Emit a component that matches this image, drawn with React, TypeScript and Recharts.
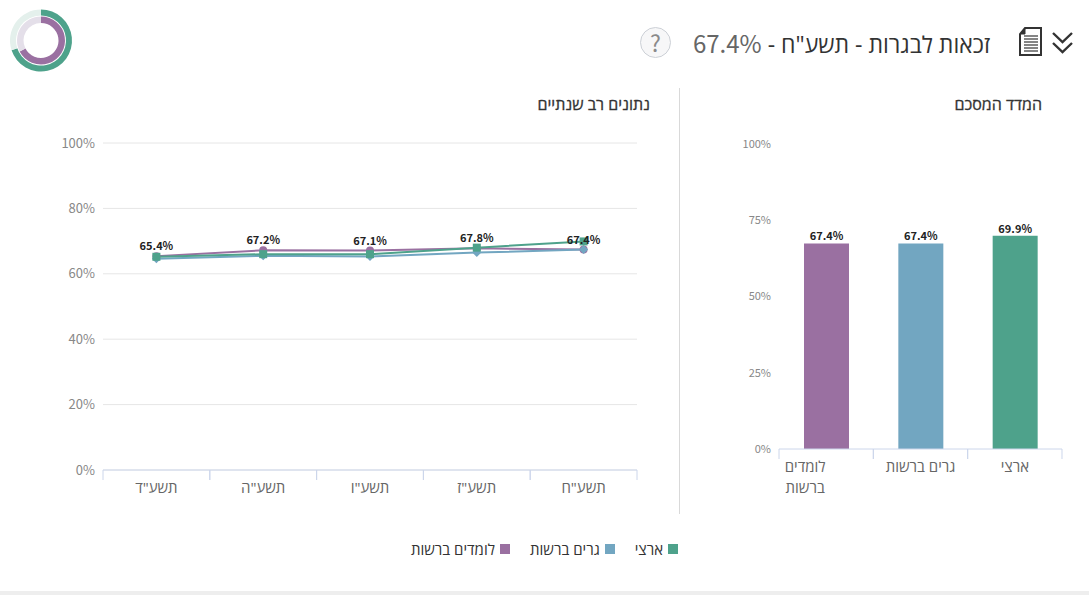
import React from "react";
import { BarChart, Bar, Cell, LineChart, Line, XAxis, YAxis, CartesianGrid, LabelList, PieChart, Pie } from "recharts";

const years = ['תשע"ד', 'תשע"ה', 'תשע"ו', 'תשע"ז', 'תשע"ח'];
const nationalSeries = [65.2, 66.0, 66.0, 68.0, 69.9];
const residentSeries = [64.6, 65.5, 65.3, 66.5, 67.4];
const studentSeries = [65.4, 67.2, 67.1, 67.8, 67.4];
const yTicksLine = [0, 20, 40, 60, 80, 100];
const yTicksBar = [0, 25, 50, 75, 100];
const groups = ["לומדים ברשות", "גרים ברשות", "ארצי"];
const groupValues = [67.4, 67.4, 69.9];
const legendNames = ["ארצי", "גרים ברשות", "לומדים ברשות"];
const outerRing = [69.9, 30.1];
const innerRing = [67.4, 32.6];

const GREEN = "#4ea28b";
const BLUE = "#72a6c1";
const PURPLE = "#9a70a1";
const legendColors = [GREEN, BLUE, PURPLE];
const barColors = [PURPLE, BLUE, GREEN];
const AXIS = "#ccd6eb";
const FONT = '"Noto Sans CJK JP","Open Sans","Liberation Sans",sans-serif';
const HEB = '"Open Sans","Liberation Sans","DejaVu Sans",sans-serif';

const lineData = years.map((year, i) => ({
  year,
  national: nationalSeries[i],
  resident: residentSeries[i],
  student: studentSeries[i],
}));
const barData = groups.map((name, i) => ({ name, value: groupValues[i] }));
const ringData = (vals: number[]) => vals.map((value, i) => ({ name: i === 0 ? "value" : "rest", value }));

const pct = (v: any) => `${Number(v).toFixed(1)}%`;

const BandTick = ({ x, y, payload, band, fontSize, wrapWidth }: any) => {
  const text: string = payload.value;
  const words = text.split(" ");
  const wrap = wrapWidth && text.length > 10;
  return (
    <g>
      <line x1={x - band / 2} x2={x - band / 2} y1={y - 8} y2={y + 2} stroke={AXIS} />
      <line x1={x + band / 2} x2={x + band / 2} y1={y - 8} y2={y + 2} stroke={AXIS} />
      {wrap ? (
        words.map((w, i) => (
          <text key={w} x={x - 21} y={y + 15 + i * 21} textAnchor="middle" direction="rtl" fontSize={fontSize} fontFamily={HEB} fill="#666">{w}</text>
        ))
      ) : (
        <text x={x} y={y + 15} textAnchor="middle" direction="rtl" fontSize={fontSize} fontFamily={HEB} fill="#666">{text}</text>
      )}
    </g>
  );
};

const Square = ({ cx, cy, fill }: any) => <rect x={cx - 4} y={cy - 4} width={8} height={8} fill={fill} />;
const Diamond = ({ cx, cy, fill }: any) => <path d={`M${cx} ${cy - 4.5}L${cx + 4.5} ${cy}L${cx} ${cy + 4.5}L${cx - 4.5} ${cy}Z`} fill={fill} />;
const Circle = ({ cx, cy, fill }: any) => <circle cx={cx} cy={cy} r={4} fill={fill} />;

const abs = (left: number, top: number, extra: React.CSSProperties = {}): React.CSSProperties => ({ position: "absolute", left, top, ...extra });

export default function App() {
  return (
    <div style={{ position: "absolute", left: 0, top: 0, width: 1089, height: 595, background: "#fff", overflow: "hidden", fontFamily: HEB }}>
      {/* gauge */}
      <div style={abs(0, 0)}>
        <PieChart width={82} height={82} margin={{ top: 0, left: 0, right: 0, bottom: 0 }}>
          <Pie data={ringData(outerRing)} dataKey="value" cx={41} cy={40.5} innerRadius={25} outerRadius={31} startAngle={90} endAngle={-270} stroke="none" isAnimationActive={false}>
            <Cell fill={GREEN} />
            <Cell fill="#e4f0ec" />
          </Pie>
          <Pie data={ringData(innerRing)} dataKey="value" cx={41} cy={40.5} innerRadius={17.5} outerRadius={24} startAngle={90} endAngle={-270} stroke="none" isAnimationActive={false}>
            <Cell fill={PURPLE} />
            <Cell fill="#e4dfe9" />
          </Pie>
        </PieChart>
      </div>

      {/* header */}
      <div style={abs(640, 27, { width: 31, height: 31, boxSizing: "border-box", border: "1px solid #ccd0d6", borderRadius: 16, background: "#f7f7f8", color: "#8a8a8a", fontSize: 23, lineHeight: "29px", textAlign: "center", fontFamily: FONT })}>?</div>
      <div style={{ position: "absolute", right: 99, top: 26, whiteSpace: "nowrap", direction: "rtl", fontSize: 23, lineHeight: "34px", color: "#333", fontFamily: HEB }}>
        זכאות לבגרות - תשע"ח - <span style={{ color: "#666", fontFamily: FONT, fontSize: 24 }}>67.4%</span>
      </div>
      <svg style={abs(1015, 25)} width={60} height={34}>
        <path d="M10 3H26V30H5V9Z" fill="none" stroke="#333" strokeWidth={2} />
        <path d="M10 3V9H5" fill="#333" stroke="#333" strokeWidth={1} />
        {[11, 14, 17, 20, 23, 26].map((y) => (
          <line key={y} x1={9} x2={23} y1={y} y2={y} stroke="#333" strokeWidth={1.2} />
        ))}
        <path d="M38 8L47.5 17L57 8M38 18L47.5 27L57 18" fill="none" stroke="#333" strokeWidth={2.4} />
      </svg>

      <div style={abs(679, 88, { width: 1, height: 426, background: "#d9d9d9" })} />

      <div style={{ position: "absolute", right: 47, top: 93, direction: "rtl", fontSize: 16, lineHeight: "22px", color: "#333", whiteSpace: "nowrap", WebkitTextStroke: "0.3px #333" }}>המדד המסכם</div>
      <div style={{ position: "absolute", right: 439, top: 93, direction: "rtl", fontSize: 16, lineHeight: "22px", color: "#333", whiteSpace: "nowrap", WebkitTextStroke: "0.3px #333" }}>נתונים רב שנתיים</div>

      {/* multi-year line chart */}
      <div style={abs(0, 0)}>
        <LineChart width={680} height={520} data={lineData} margin={{ top: 143, left: 43, right: 43, bottom: 20 }}>
          <CartesianGrid horizontal vertical={false} stroke="#e6e6e6" />
          <XAxis dataKey="year" stroke={AXIS} tickLine={false} interval={0} height={30} padding={{ left: 53.4, right: 53.4 }} tick={<BandTick band={106.8} fontSize={15} />} />
          <YAxis width={60} domain={[0, 100]} ticks={yTicksLine} tickFormatter={(v) => `${v}%`} axisLine={false} tickLine={false} tick={{ fontSize: 13, fill: "#888", fontFamily: FONT }} />
          <Line dataKey="student" stroke={PURPLE} strokeWidth={2} dot={<Circle fill={PURPLE} />} isAnimationActive={false} />
          <Line dataKey="resident" stroke={BLUE} strokeWidth={2} dot={<Diamond fill={BLUE} />} isAnimationActive={false} />
          <Line dataKey="national" stroke={GREEN} strokeWidth={2} dot={<Square fill={GREEN} />} isAnimationActive={false} />
          <Line dataKey="student" stroke="none" dot={false} isAnimationActive={false}>
            <LabelList dataKey="student" position="top" offset={6} formatter={pct} style={{ fontSize: 11, fontWeight: 700, fill: "#222", fontFamily: FONT }} />
          </Line>
        </LineChart>
      </div>

      {/* summary bar chart */}
      <div style={abs(700, 0)}>
        <BarChart width={389} height={520} data={barData} barSize={45} margin={{ top: 144, left: 29, right: 27, bottom: 41 }}>
          <XAxis dataKey="name" stroke={AXIS} tickLine={false} interval={0} height={30} tick={<BandTick band={94.33} fontSize={15} wrapWidth />} />
          <YAxis width={50} domain={[0, 100]} ticks={yTicksBar} tickFormatter={(v) => `${v}%`} axisLine={false} tickLine={false} tick={{ fontSize: 11, fill: "#888", fontFamily: FONT }} />
          <Bar dataKey="value" isAnimationActive={false}>
            {barData.map((d, i) => (
              <Cell key={d.name} fill={barColors[i]} />
            ))}
            <LabelList dataKey="value" position="top" offset={3} formatter={pct} style={{ fontSize: 11, fontWeight: 700, fill: "#222", fontFamily: FONT }} />
          </Bar>
        </BarChart>
      </div>

      {/* legend */}
      <div style={{ position: "absolute", right: 411, top: 539, display: "flex", direction: "rtl", gap: 20, fontSize: 15, lineHeight: "20px", color: "#333", whiteSpace: "nowrap" }}>
        {legendNames.map((n, i) => (
          <div key={n} style={{ display: "flex", alignItems: "center", gap: 5 }}>
            <span style={{ width: 10, height: 10, background: legendColors[i], display: "inline-block" }} />
            <span>{n}</span>
          </div>
        ))}
      </div>

      <div style={abs(0, 591, { width: 1089, height: 4, background: "#eeeeee" })} />
    </div>
  );
}
